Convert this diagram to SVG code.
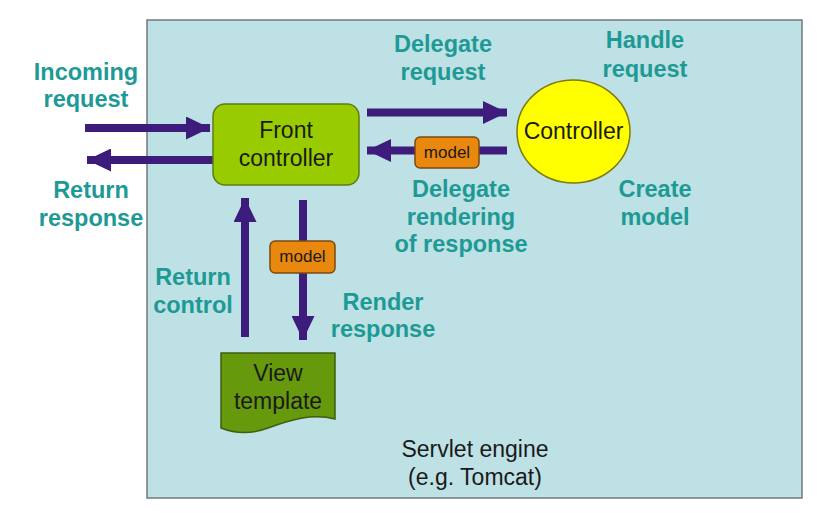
<svg xmlns="http://www.w3.org/2000/svg" width="822" height="513" viewBox="0 0 822 513">
<style>
.lbl{font-family:"Liberation Sans",Arial,sans-serif;font-weight:bold;font-size:23.5px;fill:#1D9A95;text-anchor:middle}
.nt{font-family:"Liberation Sans",Arial,sans-serif;font-size:23px;fill:#1a1a1a;text-anchor:middle}
.mt{font-family:"Liberation Sans",Arial,sans-serif;font-size:17px;fill:#1a1a1a;text-anchor:middle}
.arr{stroke:#3D1C7C;stroke-width:8;fill:none}
.mbox{fill:#E8880F;stroke:#7A4A12;stroke-width:1.5}
</style>
<defs>
<marker id="ah" markerUnits="userSpaceOnUse" markerWidth="24" markerHeight="23" viewBox="0 0 24 23" refX="24" refY="11.5" orient="auto">
<path d="M0,0 L24,11.5 L0,23 z" fill="#3D1C7C"/>
</marker>
</defs>
<rect width="822" height="513" fill="#ffffff"/>
<g id="servlet-engine">
<rect x="147" y="20" width="655" height="478" fill="#BDE1E4" stroke="#6f7a7c" stroke-width="1.5"/>
<text class="nt" x="475" y="457" fill="#222">Servlet engine</text>
<text class="nt" x="475" y="485" fill="#222">(e.g. Tomcat)</text>
</g>
<g id="connectors">
<line class="arr" x1="85" y1="128" x2="210" y2="128" marker-end="url(#ah)"/>
<line class="arr" x1="213" y1="160" x2="87" y2="160" marker-end="url(#ah)"/>
<line class="arr" x1="367" y1="112.5" x2="507" y2="112.5" marker-end="url(#ah)"/>
<line class="arr" x1="507" y1="150.5" x2="367" y2="150.5" marker-end="url(#ah)"/>
<line class="arr" x1="245" y1="337" x2="245" y2="198" marker-end="url(#ah)"/>
<line class="arr" x1="303" y1="200" x2="303" y2="340" marker-end="url(#ah)"/>
</g>
<g id="front-controller">
<rect x="213" y="104" width="146" height="81" rx="12" fill="#99CC00" stroke="#5E7D14" stroke-width="1.5"/>
<text class="nt" x="286" y="138">Front</text>
<text class="nt" x="286" y="166">controller</text>
</g>
<g id="controller">
<ellipse cx="573.5" cy="131.5" rx="56.5" ry="51.5" fill="#FFFF00" stroke="#7D7A10" stroke-width="1.5"/>
<text class="nt" x="573.5" y="139">Controller</text>
</g>
<g id="model-1">
<rect class="mbox" x="415" y="137" width="64" height="31" rx="5"/>
<text class="mt" x="447" y="158">model</text>
</g>
<g id="model-2">
<rect class="mbox" x="270" y="241" width="65" height="32" rx="5"/>
<text class="mt" x="302.5" y="262">model</text>
</g>
<g id="view-template">
<path d="M221,353 H335 V419 C312,413 290,420 268,428 C252,434 236,434 221,428 Z" fill="#66990C" stroke="#3E5E10" stroke-width="1.5"/>
<text class="nt" x="278" y="381">View</text>
<text class="nt" x="278" y="409">template</text>
</g>
<g id="labels">
<text class="lbl" x="86" y="80">Incoming</text>
<text class="lbl" x="86" y="107">request</text>
<text class="lbl" x="91" y="198">Return</text>
<text class="lbl" x="91" y="226">response</text>
<text class="lbl" x="443" y="52">Delegate</text>
<text class="lbl" x="443" y="80">request</text>
<text class="lbl" x="645" y="48">Handle</text>
<text class="lbl" x="645" y="77">request</text>
<text class="lbl" x="461" y="197">Delegate</text>
<text class="lbl" x="461" y="225">rendering</text>
<text class="lbl" x="461" y="252">of response</text>
<text class="lbl" x="655" y="197">Create</text>
<text class="lbl" x="655" y="225">model</text>
<text class="lbl" x="193" y="285">Return</text>
<text class="lbl" x="193" y="313">control</text>
<text class="lbl" x="383" y="310">Render</text>
<text class="lbl" x="383" y="337">response</text>
</g>
</svg>
